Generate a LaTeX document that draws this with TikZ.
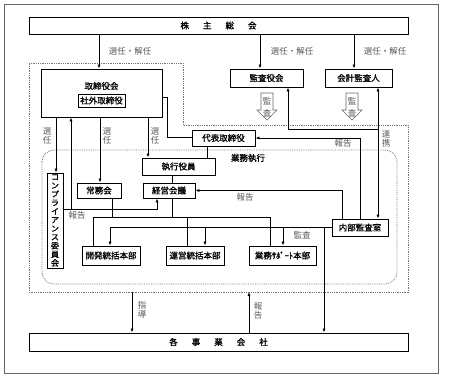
\documentclass[tikz,border=0pt]{standalone}
\usepackage{fontspec}
\setmainfont{Noto Sans CJK JP}
\newfontfamily\boxfont{Noto Sans CJK JP}[FakeBold=1.2]
\usetikzlibrary{arrows.meta}
\tikzset{sz/.style 2 args={minimum width=#1bp, minimum height=#2bp}}

\begin{document}
\begin{tikzpicture}[x=1bp,y=-1bp,
  box/.style={draw, line width=0.95pt, fill=white, inner sep=0pt, align=center,
    font=\boxfont\fontsize{8.5bp}{9bp}\selectfont},
  lbl/.style={text=black!65, inner sep=0pt, align=center, font=\fontsize{8.5bp}{9bp}\selectfont},
  conn/.style={line width=0.8pt},
  arr/.style={line width=0.8pt, -{Latex[length=4bp,width=3.2bp]}},
  arrs/.style={line width=0.8pt, {Latex[length=4bp,width=3.2bp]}-{Latex[length=4bp,width=3.2bp]}},
  zone/.style={draw=black!55, line width=0.8pt, densely dotted},
  hollow/.style={draw=black!60, line width=0.6pt, fill=white}]
\useasboundingbox (0,0) rectangle (449,379);
\draw[black!60, line width=0.8pt] (4,4) rectangle (438,373);
\draw[zone] (29,63) -- (183,63) -- (183,125) -- (408,125) -- (408,292) -- (29,292) -- cycle;
\draw[zone, rounded corners=12bp] (42,150) rectangle (397,284);
\node[font=\boxfont\fontsize{8.5bp}{9bp}\selectfont] (gyomu) at (248,158) {業務執行};

\node[box, sz={379}{17}] (soukai) at (218.5,25.5) {株\hspace{14bp}主\hspace{14bp}総\hspace{14bp}会};
\node[box, sz={121}{48}] (torikai) at (101.5,93) {};
\node[font=\boxfont\fontsize{8.5bp}{9bp}\selectfont] (torikai-t) at (101.5,86) {取締役会};
\node[box, sz={47}{13}, line width=0.6pt] (shagai) at (101.5,100.5) {社外取締役};
\node[box, sz={73}{18}] (kansa) at (266.5,78) {監査役会};
\node[box, sz={67}{18}] (kaikei) at (358.5,78) {会計監査人};
\node[box, sz={63}{16}] (daihyo) at (223.5,138) {代表取締役};
\node[box, sz={73}{17}] (shikko) at (178.5,166.5) {執行役員};
\node[box, sz={44}{15}] (jomu) at (99,190.5) {常務会};
\node[box, sz={52}{15}] (keiei) at (169,190.5) {経営会議};
\node[box, sz={56}{17}] (naibu) at (360,227.5) {内部監査室};
\node[box, sz={16}{95}, font=\boxfont\fontsize{8bp}{8.6bp}\selectfont] (comp) at (55,220.5)
  {コ\\ン\\プ\\ラ\\イ\\ア\\ン\\ス\\委\\員\\会};
\node[box, sz={58}{19}] (kaihatsu) at (111,255.5) {開発統括本部};
\node[box, sz={58}{19}] (unei) at (195,255.5) {運営統括本部};
\node[box, sz={67}{19}] (support) at (282.5,255.5) {業務ｻﾎﾟｰﾄ本部};
\node[box, sz={379}{18}] (jigyo) at (218.5,342) {各\hspace{14bp}事\hspace{14bp}業\hspace{14bp}会\hspace{14bp}社};

\foreach \cx in {267,352} {
  \draw[hollow] (\cx-6,93) -- (\cx+6,93) -- (\cx+6,110) -- (\cx+10,110) -- (\cx,120)
    -- (\cx-10,110) -- (\cx-6,110) -- cycle;
  \node[lbl] at (\cx,101) {監};
  \node[lbl] at (\cx,113) {査};
}

\draw[arr] (soukai.south -| 99,0) -- (torikai.north -| 99,0);
\draw[arr] (soukai.south -| 260,0) -- (kansa.north -| 260,0);
\draw[arr] (soukai.south -| 354,0) -- (kaikei.north -| 354,0);
\node[lbl] at (130,51) {選任・解任};
\node[lbl] at (292,51) {選任・解任};
\node[lbl] at (385,51) {選任・解任};

\draw[arr] (torikai.south -| 56,0) -- (comp.north -| 56,0);
\draw[arr] (torikai.south -| 100,0) -- (jomu.north -| 100,0);
\draw[arr] (torikai.south -| 148,0) -- (shikko.north -| 148,0);
\node[lbl] at (47,136) {選\\任};
\node[lbl] at (107,136) {選\\任};
\node[lbl] at (155,136) {選\\任};
\draw[conn] (torikai.east |- 0,97) -| (167,137) -- (daihyo.west |- 0,137);
\draw[conn] (daihyo.south -| 207,0) -- (shikko.north -| 207,0);
\draw[conn] (shikko.south -| 172,0) -- (keiei.north -| 172,0);

\draw[arr] (comp.east |- 0,209) -| (keiei.south -| 157,0);
\draw[arr] (71,209) -- (torikai.south -| 71,0);
\node[lbl] at (77,215) {報告};

\draw[arrs] (kaikei.south -| 378,0) -- (naibu.north -| 378,0);
\coordinate (renkei) at (378,129);
\draw[arr] (renkei) -| (kansa.south -| 288,0);
\node[lbl] at (386,139) {連\\携};
\draw[arr] (naibu.north -| 360,0) |- (daihyo.east);
\node[lbl] at (343,143) {報告};
\draw[arr] (naibu.north -| 342,0) |- (keiei.east);
\node[lbl] at (245,197) {報告};

\draw[conn] (jomu.south -| 112,0) -- (112,217);
\draw[conn] (keiei.south -| 172,0) -- (172,217);
\draw[conn] (kaihatsu.north -| 93,0) -- (93,217) -- (270,217) -- (support.north -| 270,0);
\draw[conn] (187,217) -- (unei.north -| 187,0);

\draw[arr] (naibu.west) -| (kaihatsu.north -| 110,0);
\draw[arr] (205,227.5) -- (unei.north -| 205,0);
\draw[arr] (283,227.5) -- (support.north -| 283,0);
\node[lbl] at (302,235) {監査};
\draw[arr] (324,227.5) -- (jigyo.north -| 324,0);

\draw[arr] (132,292) -- (jigyo.north -| 132,0);
\node[lbl] at (142,310) {指\\導};
\draw[arr] (jigyo.north -| 249,0) -- (249,292);
\node[lbl] at (258,311) {報\\告};
\end{tikzpicture}
\end{document}
